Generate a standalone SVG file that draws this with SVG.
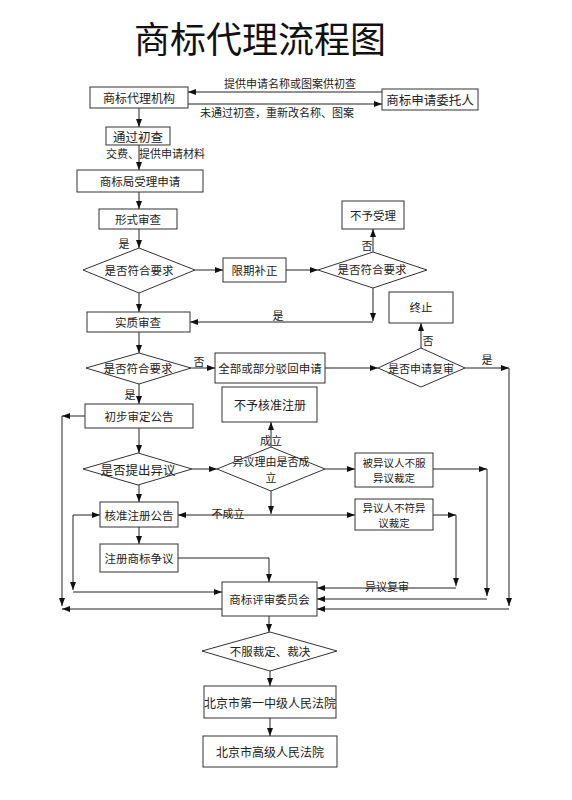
<svg xmlns="http://www.w3.org/2000/svg" width="572" height="800" viewBox="0 0 572 800">
<defs>
<marker id="ah" markerUnits="userSpaceOnUse" markerWidth="9" markerHeight="7" refX="8" refY="3" orient="auto">
<path d="M0,0 L8,3 L0,6 z" fill="#111"/>
</marker>
<style>
.b{fill:#fff;stroke:#333;stroke-width:1}
.t{font-family:"Noto Sans CJK SC","Noto Sans CJK JP",sans-serif;font-size:11.5px;fill:#222;text-anchor:middle;dominant-baseline:central}
.l{font-family:"Noto Sans CJK SC","Noto Sans CJK JP",sans-serif;font-size:11px;fill:#222;text-anchor:middle}
.c line,.c path{stroke:#222;stroke-width:1;fill:none}
.a{marker-end:url(#ah)}
</style>
</defs>
<rect width="572" height="800" fill="#fff"/>
<text x="260" y="53" font-family="Noto Sans CJK SC, sans-serif" font-size="36" fill="#111" text-anchor="middle">商标代理流程图</text>

<g class="c" id="connectors">
<line class="a" x1="382" y1="92" x2="188" y2="92"/>
<line class="a" x1="188" y1="104" x2="382" y2="104"/>
<line class="a" x1="139" y1="108" x2="139" y2="127"/>
<line class="a" x1="139" y1="145" x2="139" y2="170"/>
<line class="a" x1="139" y1="192" x2="139" y2="209"/>
<line class="a" x1="139" y1="229" x2="139" y2="248"/>
<line class="a" x1="195" y1="270" x2="223" y2="270"/>
<line class="a" x1="286" y1="270" x2="318" y2="270"/>
<line class="a" x1="373" y1="252" x2="373" y2="229"/>
<line class="a" x1="373" y1="288" x2="373" y2="321"/>
<line class="a" x1="373" y1="322" x2="190" y2="322"/>
<line class="a" x1="139" y1="293" x2="139" y2="312"/>
<line class="a" x1="139" y1="332" x2="139" y2="353"/>
<line class="a" x1="191" y1="368" x2="215" y2="368"/>
<line class="a" x1="325" y1="368" x2="378" y2="368"/>
<line class="a" x1="421" y1="348" x2="421" y2="323"/>
<line class="a" x1="465" y1="368" x2="509" y2="368"/>
<line class="a" x1="509" y1="368" x2="509" y2="606"/>
<line class="a" x1="509" y1="609" x2="317" y2="609"/>
<line class="a" x1="139" y1="384" x2="139" y2="404"/>
<line class="a" x1="85" y1="416" x2="62" y2="416"/>
<line class="a" x1="62" y1="416" x2="62" y2="606"/>
<line class="a" x1="222" y1="609" x2="62" y2="609"/>
<line class="a" x1="139" y1="428" x2="139" y2="453"/>
<line class="a" x1="192" y1="469" x2="217" y2="469"/>
<line class="a" x1="325" y1="469" x2="355" y2="469"/>
<line class="a" x1="433" y1="469" x2="487" y2="469"/>
<line class="a" x1="487" y1="469" x2="487" y2="596"/>
<line class="a" x1="487" y1="599" x2="317" y2="599"/>
<line class="a" x1="271" y1="447" x2="271" y2="422"/>
<line class="a" x1="139" y1="485" x2="139" y2="502"/>
<line class="a" x1="271" y1="491" x2="271" y2="514"/>
<line class="a" x1="266" y1="515" x2="178" y2="515"/>
<line class="a" x1="266" y1="515" x2="355" y2="515"/>
<line class="a" x1="433" y1="515" x2="456" y2="515"/>
<line class="a" x1="456" y1="515" x2="456" y2="586"/>
<line class="a" x1="456" y1="588" x2="317" y2="588"/>
<line class="a" x1="73" y1="515" x2="100" y2="515"/>
<line class="a" x1="73" y1="515" x2="73" y2="590"/>
<line class="a" x1="73" y1="592" x2="222" y2="592"/>
<line class="a" x1="139" y1="527" x2="139" y2="544"/>
<path class="a" d="M178,558 H269 V582"/>
<line class="a" x1="269" y1="616" x2="269" y2="632"/>
<line class="a" x1="270" y1="671" x2="270" y2="686"/>
<line class="a" x1="270" y1="718" x2="270" y2="736"/>
</g>

<g id="edge-labels">
<text class="l" x="290" y="88">提供申请名称或图案供初查</text>
<text class="l" x="277" y="117">未通过初查，重新改名称、图案</text>
<text class="l" x="106" y="158" style="text-anchor:start">交费、提供申请材料</text>
<text class="l" x="124" y="248">是</text>
<text class="l" x="367" y="250">否</text>
<text class="l" x="278" y="320">是</text>
<text class="l" x="199" y="366">否</text>
<text class="l" x="428" y="345">否</text>
<text class="l" x="487" y="364">是</text>
<text class="l" x="130" y="399">是</text>
<text class="l" x="271" y="445">成立</text>
<text class="l" x="228" y="518">不成立</text>
<text class="l" x="387" y="591">异议复审</text>
</g>

<g id="n-agency"><rect class="b" x="90" y="87" width="98" height="21"/><text class="t" x="139" y="97.5" style="font-size:12px">商标代理机构</text></g>
<g id="n-client"><rect class="b" x="382" y="89" width="96" height="21"/><text class="t" x="430" y="99.5" style="font-size:12.5px">商标申请委托人</text></g>
<g id="n-pass"><rect class="b" x="106" y="127" width="64" height="18"/><text class="t" x="138" y="136" style="font-size:12.5px">通过初查</text></g>
<g id="n-accept"><rect class="b" x="77" y="170" width="126" height="22"/><text class="t" x="140" y="181">商标局受理申请</text></g>
<g id="n-formal"><rect class="b" x="99" y="209" width="78" height="20"/><text class="t" x="138" y="219">形式审查</text></g>
<g id="d-req1"><polygon class="b" points="83,270 139,248 195,270 139,293"/><text class="t" x="139" y="270">是否符合要求</text></g>
<g id="n-fix"><rect class="b" x="223" y="258" width="63" height="24"/><text class="t" x="254.5" y="270">限期补正</text></g>
<g id="d-req2"><polygon class="b" points="318,270 373,252 427,270 373,288"/><text class="t" x="372" y="269">是否符合要求</text></g>
<g id="n-reject"><rect class="b" x="342" y="201" width="62" height="28"/><text class="t" x="373" y="215">不予受理</text></g>
<g id="n-subst"><rect class="b" x="87" y="312" width="103" height="20"/><text class="t" x="138" y="322">实质审查</text></g>
<g id="n-stop"><rect class="b" x="389" y="292" width="64" height="31"/><text class="t" x="421" y="307">终止</text></g>
<g id="d-req3"><polygon class="b" points="86,368 139,353 191,368 139,384"/><text class="t" x="138" y="368">是否符合要求</text></g>
<g id="n-refuse"><rect class="b" x="215" y="353" width="110" height="30"/><text class="t" x="270" y="368">全部或部分驳回申请</text></g>
<g id="d-review"><polygon class="b" points="378,368 421,348 465,368 421,387"/><text class="t" x="421" y="368" style="font-size:11px">是否申请复审</text></g>
<g id="n-prelim"><rect class="b" x="85" y="404" width="108" height="24"/><text class="t" x="139" y="416">初步审定公告</text></g>
<g id="n-noreg"><rect class="b" x="222" y="387" width="95" height="35"/><text class="t" x="270" y="404" style="font-size:12px">不予核准注册</text></g>
<g id="d-oppose"><polygon class="b" points="83,469 138,453 192,469 138,485"/><text class="t" x="138" y="469" style="font-size:12.5px">是否提出异议</text></g>
<g id="d-reason"><polygon class="b" points="217,469 271,447 325,469 271,491"/><text class="t" x="271" y="461" style="font-size:11px">异议理由是否成</text><text class="t" x="271" y="477" style="font-size:11px">立</text></g>
<g id="n-opposed"><rect class="b" x="355" y="453" width="78" height="34"/><text class="t" x="394" y="462.5" style="font-size:10.5px">被异议人不服</text><text class="t" x="394" y="477.8" style="font-size:10.5px">异议裁定</text></g>
<g id="n-opponent"><rect class="b" x="355" y="499" width="78" height="31"/><text class="t" x="394" y="507" style="font-size:10.5px">异议人不符异</text><text class="t" x="394" y="522.3" style="font-size:10.5px">议裁定</text></g>
<g id="n-approve"><rect class="b" x="100" y="502" width="78" height="25"/><text class="t" x="139" y="514.5">核准注册公告</text></g>
<g id="n-dispute"><rect class="b" x="100" y="544" width="78" height="28"/><text class="t" x="139" y="558">注册商标争议</text></g>
<g id="n-board"><rect class="b" x="222" y="582" width="95" height="34"/><text class="t" x="269.5" y="599">商标评审委员会</text></g>
<g id="d-appeal"><polygon class="b" points="202,651 270,632 337,651 270,671"/><text class="t" x="270" y="651">不服裁定、裁决</text></g>
<g id="n-court1"><rect class="b" x="204" y="686" width="132" height="32"/><text class="t" x="270" y="702" style="font-size:12px">北京市第一中级人民法院</text></g>
<g id="n-court2"><rect class="b" x="203" y="736" width="134" height="31"/><text class="t" x="270" y="751.5" style="font-size:12px">北京市高级人民法院</text></g>
</svg>
